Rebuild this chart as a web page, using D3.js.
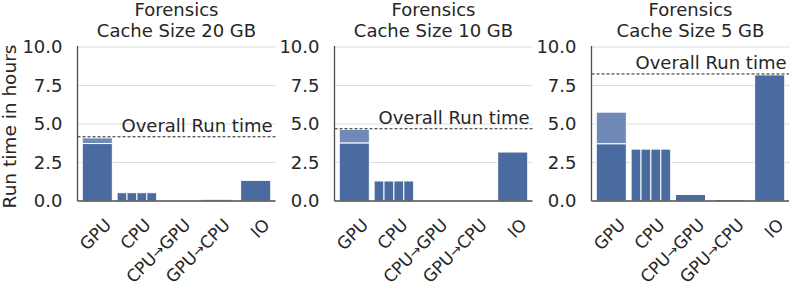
<!DOCTYPE html>
<html>
<head>
<meta charset="utf-8">
<script src="https://cdn.jsdelivr.net/npm/d3@7"></script>
<style>
  body { margin: 0; background: #fff; }
  svg text { font-family: "DejaVu Sans", sans-serif; fill: #262626; }
</style>
</head>
<body>
<svg id="chart" width="789" height="287"></svg>
<script>
// data
var categories = ["GPU", "CPU", "CPU\u2192GPU", "GPU\u2192CPU", "IO"];
var panelTitles = ["Cache Size 20 GB", "Cache Size 10 GB", "Cache Size 5 GB"];
var gpuBase = [3.73, 3.76, 3.71];
var gpuTotal = [4.10, 4.65, 5.77];
var cpuCores = [
    [0.54, 0.54, 0.54, 0.54],
    [1.30, 1.30, 1.30, 1.30],
    [3.37, 3.37, 3.37, 3.37]
];
var cpuToGpu = [0.0, 0.0, 0.42];
var gpuToCpu = [0.11, 0.03, 0.10];
var ioTime = [1.34, 3.18, 8.19];
var overall = [4.17, 4.69, 8.25];
var yTicks = [0, 2.5, 5, 7.5, 10];

var dark = "#4a6b9f", light = "#7189b6";
var panelLeft = [77.5, 334.5, 591.5];
var plotW = 198;
var fs = "18px";

var svg = d3.select("#chart");
var y = d3.scaleLinear().domain([0, 10]).range([201, 47]);

panelLeft.forEach(function (x0, p) {
    var g = svg.append("g");
    var x = d3.scaleBand().domain(categories).range([x0, x0 + plotW])
        .paddingInner(0.24).paddingOuter(0.12);

    // grid
    g.selectAll(".grid").data(yTicks.slice(1)).enter().append("line")
        .attr("x1", x0).attr("x2", x0 + plotW)
        .attr("y1", d => y(d)).attr("y2", d => y(d))
        .attr("stroke", "#dcdcdc").attr("stroke-width", 1.2);

    // y axis labels
    g.selectAll(".ytick").data(yTicks).enter().append("text")
        .attr("x", x0 - 15).attr("y", d => y(d)).attr("dy", "0.36em")
        .attr("text-anchor", "end").style("font-size", fs)
        .text(d => d3.format(".1f")(d));

    // single bars
    var singles = [
        { c: categories[2], v: cpuToGpu[p] },
        { c: categories[3], v: gpuToCpu[p] },
        { c: categories[4], v: ioTime[p] }
    ];
    g.selectAll(".bar").data(singles).enter().append("rect")
        .attr("x", d => x(d.c)).attr("width", x.bandwidth())
        .attr("y", d => y(d.v)).attr("height", d => y(0) - y(d.v))
        .attr("fill", dark).attr("stroke", "#fff").attr("stroke-width", 1);

    // GPU: base plus lighter extra part
    g.append("rect")
        .attr("x", x("GPU")).attr("width", x.bandwidth())
        .attr("y", y(gpuTotal[p])).attr("height", y(gpuBase[p]) - y(gpuTotal[p]))
        .attr("fill", light).attr("stroke", "#fff").attr("stroke-width", 1);
    g.append("rect")
        .attr("x", x("GPU")).attr("width", x.bandwidth())
        .attr("y", y(gpuBase[p])).attr("height", y(0) - y(gpuBase[p]))
        .attr("fill", dark).attr("stroke", "#fff").attr("stroke-width", 1);

    // CPU: one bar per core across the whole slot
    var slot0 = x("CPU") - (x.step() - x.bandwidth()) / 2;
    var xc = d3.scaleBand().domain(d3.range(4)).range([slot0, slot0 + x.step()]);
    g.selectAll(".core").data(cpuCores[p]).enter().append("rect")
        .attr("x", (d, i) => xc(i)).attr("width", xc.bandwidth())
        .attr("y", d => y(d)).attr("height", d => y(0) - y(d))
        .attr("fill", dark).attr("stroke", "#fff").attr("stroke-width", 1);

    // overall run time
    g.append("line")
        .attr("x1", x0).attr("x2", x0 + plotW)
        .attr("y1", y(overall[p])).attr("y2", y(overall[p]))
        .attr("stroke", "#222").attr("stroke-width", 1).attr("stroke-dasharray", "3,2");
    g.append("text")
        .attr("x", x0 + plotW - 3).attr("y", y(overall[p]) - 4.5)
        .attr("text-anchor", "end").style("font-size", fs)
        .text("Overall Run time");

    // spines
    g.append("line").attr("x1", x0).attr("x2", x0).attr("y1", y(10) - 1).attr("y2", y(0))
        .attr("stroke", "#4d4d4d").attr("stroke-width", 1.3);
    g.append("line").attr("x1", x0).attr("x2", x0 + plotW).attr("y1", y(0)).attr("y2", y(0))
        .attr("stroke", "#4d4d4d").attr("stroke-width", 1.3);

    // x labels, arrow drawn a bit smaller like the narrow glyph in the reference
    var xl = g.selectAll(".xlab").data(categories).enter().append("text")
        .attr("transform", d => "translate(" + (x(d) + x.bandwidth() / 2 + 15) + ",226) rotate(-45)")
        .attr("text-anchor", "end").style("font-size", "17px");
    xl.each(function (d) {
        var t = d3.select(this);
        d.split("\u2192").forEach(function (part, i) {
            if (i > 0) {
                t.append("tspan").style("font-size", "14px").attr("dy", -1).text("\u2192");
                t.append("tspan").attr("dy", 1).text(part);
            } else {
                t.append("tspan").text(part);
            }
        });
    });

    // titles
    var cx = x0 + plotW / 2;
    g.append("text").attr("x", cx).attr("y", 16).attr("text-anchor", "middle")
        .style("font-size", fs).text("Forensics");
    g.append("text").attr("x", cx).attr("y", 37).attr("text-anchor", "middle")
        .style("font-size", fs).text(panelTitles[p]);
});

svg.append("text")
    .attr("transform", "translate(15.5,126.5) rotate(-90)")
    .attr("text-anchor", "middle").style("font-size", "18.5px")
    .text("Run time in hours");
</script>
</body>
</html>
